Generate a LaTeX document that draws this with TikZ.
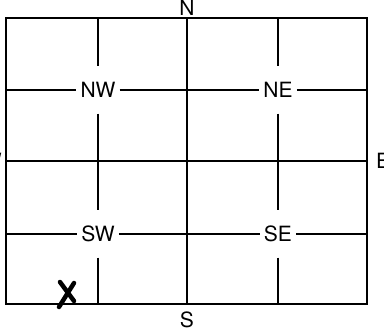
\documentclass[tikz,border=0pt]{standalone}
\usepackage{fontspec}
\setmainfont{TeX Gyre Heros}
\usepackage{tikz}
\usetikzlibrary{positioning}
\tikzset{
  grid/.style  ={line width=1.1pt,black},
  quad/.style  ={fill=white,inner xsep=4pt,minimum height=47pt,
                 font=\fontsize{21}{25}\selectfont},
  pole/.style  ={inner sep=0pt,font=\fontsize{21}{25}\selectfont},
  cross/.style ={line width=4.5pt,line cap=round},
}
\begin{document}
\begin{tikzpicture}[x=1pt,y=-1pt]
\useasboundingbox (0,0) rectangle (384,334);
% frame corners
\coordinate (tl) at (6,18);
\coordinate (br) at (367,304);
\draw[grid] (tl) rectangle (br);

% quadrant labels
\node[quad] (NW) at (98,90)  {NW};
\node[quad] (NE) at (278,90) {NE};
\node[quad] (SW) at (98,234) {SW};
\node[quad] (SE) at (278,234) {SE};

% ends of the grid lines on the frame
\coordinate (wt) at (98,18);   \coordinate (wb) at (98,304);
\coordinate (et) at (278,18);  \coordinate (eb) at (278,304);
\coordinate (ml) at (6,90);    \coordinate (mr) at (367,90);
\coordinate (sl) at (6,234);   \coordinate (sr) at (367,234);
\coordinate (ct) at (187,18);  \coordinate (cb) at (187,304);
\coordinate (cl) at (6,161);   \coordinate (cr) at (367,161);

\draw[grid] (wt) -- (NW) -- (SW) -- (wb);
\draw[grid] (et) -- (NE) -- (SE) -- (eb);
\draw[grid] (ml) -- (NW) -- (NE) -- (mr);
\draw[grid] (sl) -- (SW) -- (SE) -- (sr);
\draw[grid] (ct) -- (cb);
\draw[grid,line width=1.4pt] (cl) -- (cr);

% compass points
\node[pole,anchor=south] (N) at (187,16) {N};
\node[pole,anchor=north] (S) at (187,312) {S};
\node[pole,anchor=west]  (E) at (376,161) {E};
\node[pole,anchor=east]  (W) at (2,161)   {W};

% the cross
\draw[cross] (60,282) -- (74,301);
\draw[cross] (74,283) -- (59,307);
\end{tikzpicture}
\end{document}
